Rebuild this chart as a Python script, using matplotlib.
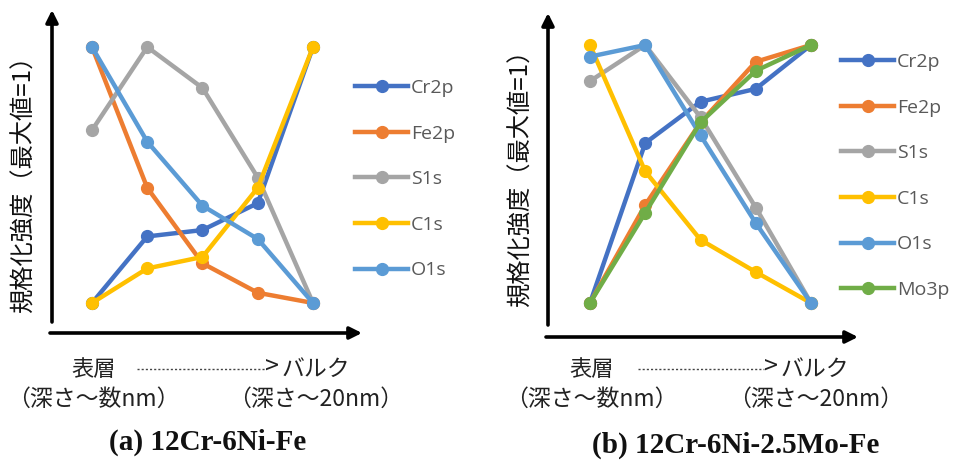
import matplotlib
matplotlib.use("Agg")
import matplotlib.pyplot as plt

W, H = 956, 461

plt.rcParams['font.family'] = ['Noto Sans CJK JP', 'DejaVu Sans']

steps = [0, 1, 2, 3, 4]

# (a) 12Cr-6Ni-Fe
a_cr2p = [0.0, 0.26, 0.285, 0.39, 1.0]
a_fe2p = [1.0, 0.45, 0.155, 0.04, 0.0]
a_s1s = [0.675, 1.0, 0.84, 0.49, 0.0]
a_c1s = [0.0, 0.135, 0.18, 0.45, 1.0]
a_o1s = [1.0, 0.63, 0.38, 0.25, 0.0]

# (b) 12Cr-6Ni-2.5Mo-Fe
b_cr2p = [0.0, 0.62, 0.78, 0.83, 1.0]
b_fe2p = [0.0, 0.38, 0.70, 0.935, 1.0]
b_s1s = [0.86, 1.0, 0.72, 0.37, 0.0]
b_c1s = [1.0, 0.51, 0.245, 0.12, 0.0]
b_o1s = [0.955, 1.0, 0.65, 0.31, 0.0]
b_mo3p = [0.0, 0.35, 0.70, 0.90, 1.0]

colors = {
    "Cr2p": "#4472C4",
    "Fe2p": "#ED7D31",
    "S1s": "#A5A5A5",
    "C1s": "#FFC000",
    "O1s": "#5B9BD5",
    "Mo3p": "#70AD47",
}

ylabel = "規格化強度（最大値=1）"


def px_axes(fig, x0, y0, x1, y1):
    return fig.add_axes([x0 / W, 1 - y1 / H, (x1 - x0) / W, (y1 - y0) / H])


def draw_panel(fig, box, yaxis_x, yaxis_bottom, data_px, series, legend_xy,
               label_x, label_y, bottom, title, title_xy):
    x0, y0, x1, y1 = box
    ax = px_axes(fig, x0, y0, x1, y1)
    px_first, px_last, py0, py1 = data_px
    sx = (px_last - px_first) / 4
    sy = (py0 - py1)
    ax.set_xlim(-(px_first - x0) / sx, 4 + (x1 - px_last) / sx)
    ax.set_ylim(-(y1 - py0) / sy, 1 + (py1 - y0) / sy)
    ax.axis("off")

    for name, vals in series:
        ax.plot(steps, vals, color=colors[name], lw=3.2, marker="o", ms=8.5,
                label=name, clip_on=False)

    # axis arrows
    fx = (yaxis_x - x0) / (x1 - x0)
    fb = (y1 - yaxis_bottom) / (y1 - y0)
    ax.annotate("", xy=(fx, 1), xytext=(fx, fb), xycoords="axes fraction",
                arrowprops=dict(arrowstyle="-|>", lw=2.6, color="black",
                                mutation_scale=18, shrinkA=0, shrinkB=0))
    ax.annotate("", xy=(1, 0), xytext=(0, 0), xycoords="axes fraction",
                arrowprops=dict(arrowstyle="-|>", lw=2.6, color="black",
                                mutation_scale=18, shrinkA=0, shrinkB=0))

    ax.legend(loc="upper left", bbox_to_anchor=(legend_xy[0] / W, 1 - legend_xy[1] / H),
              bbox_transform=fig.transFigure, frameon=False,
              handlelength=2.75, handletextpad=0.12, labelspacing=1.42,
              borderpad=0, borderaxespad=0,
              prop={"family": ["Open Sans", "DejaVu Sans"], "size": 14},
              labelcolor="#595959")

    fig.text(label_x / W, 1 - label_y / H, ylabel, rotation=90, ha="center",
             va="center", fontsize=17.5, color="#111111")

    (sx0, sx1, bx, dot0, dot1), ytop, ybot, (d1x, d2x) = bottom
    fig.text(sx0 / W, 1 - ytop / H, "表層", ha="center", va="center",
             fontsize=16, color="#222222")
    fig.text(sx1 / W, 1 - ytop / H, "バルク", ha="center", va="center",
             fontsize=16.5, color="#222222")
    fig.add_artist(plt.Line2D([dot0 / W, dot1 / W], [1 - ytop / H, 1 - ytop / H],
                              transform=fig.transFigure, color="#444444",
                              lw=1.0, ls=(0, (1.5, 1.5))))
    fig.text(bx / W, 1 - (ytop - 1) / H, ">", ha="center", va="center",
             fontsize=18, color="#222222")
    fig.text(d1x / W, 1 - ybot / H, "（深さ～数nm）", ha="center", va="center",
             fontsize=16.5, color="#222222")
    fig.text(d2x / W, 1 - ybot / H, "（深さ～20nm）", ha="center", va="center",
             fontsize=16.5, color="#222222")

    fig.text(title_xy[0] / W, 1 - title_xy[1] / H, title, ha="center", va="center",
             fontsize=21, fontweight="bold", family="Liberation Serif", color="#111111")
    return ax


fig = plt.figure(figsize=(W / 100, H / 100), dpi=100)
fig.patch.set_facecolor("white")

series_a = [("Cr2p", a_cr2p), ("Fe2p", a_fe2p), ("S1s", a_s1s), ("C1s", a_c1s), ("O1s", a_o1s)]
series_b = [("Cr2p", b_cr2p), ("Fe2p", b_fe2p), ("S1s", b_s1s), ("C1s", b_c1s),
            ("O1s", b_o1s), ("Mo3p", b_mo3p)]

draw_panel(fig, (50, 10, 362, 333), 52, 322, (92, 313, 303, 47), series_a,
           (355, 79), 24, 178,
           ((94, 316, 272, 137, 265), 369, 399, (93, 316)),
           "(a) 12Cr-6Ni-Fe", (208, 442))

draw_panel(fig, (546, 13, 858, 337), 548, 325, (590, 811, 303, 45), series_b,
           (841, 53), 521, 172,
           ((592, 815, 771, 638, 764), 369, 399, (591, 816)),
           "(b) 12Cr-6Ni-2.5Mo-Fe", (736, 445))

fig.savefig("out.png", dpi=100)
